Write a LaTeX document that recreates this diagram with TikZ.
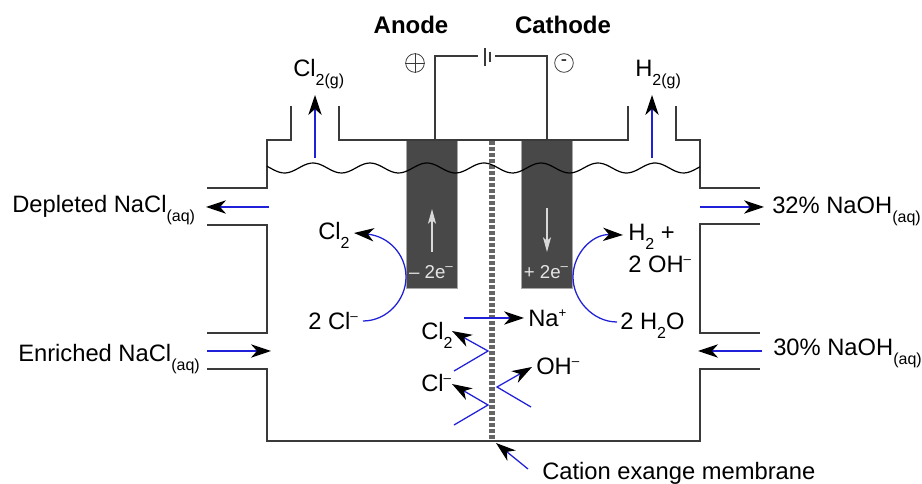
\documentclass[tikz,border=0pt]{standalone}
\usepackage{fontspec}
\setmainfont{Liberation Sans}
\usetikzlibrary{arrows.meta}
\definecolor{wallgray}{HTML}{3A3A3A}
\definecolor{flowblue}{HTML}{2020D8}
\definecolor{platedark}{HTML}{484848}
\newcommand{\chemsub}[1]{\raisebox{-0.36em}{\fontsize{12}{12}\selectfont #1}}
\newcommand{\chemsup}[1]{\raisebox{0.42em}{\fontsize{10}{12}\selectfont #1}}
\tikzset{
  species/.style={anchor=base west, inner sep=0pt, font=\fontsize{17.8}{20}\selectfont},
  heading/.style={anchor=base, inner sep=0pt, font=\fontsize{18}{20}\selectfont\bfseries},
  wall/.style={draw=wallgray, line width=0.95pt},
  flow/.style={draw=flowblue, line width=0.95pt, -{Stealth[color=black, length=15pt, width=10pt, inset=4.5pt]}},
  electron/.style={draw=white!85!black, line width=0.9pt, -{Stealth[length=11pt, width=6pt, inset=2.5pt]}},
  plate/.style={fill=platedark, draw=white!65!black, line width=0.4pt, inner sep=0pt, minimum width=38.5pt, minimum height=111pt},
  charge/.style={inner sep=0pt, text=white!90!black, font=\fontsize{14}{15}\selectfont},
  pole/.style={draw=wallgray, line width=0.6pt, circle, minimum size=14pt, inner sep=0pt}
}
\begin{document}
\begin{tikzpicture}[x=0.75pt, y=-0.75pt]
  \useasboundingbox (0,0) rectangle (922,484);

  % electrodes
  \node[plate] (anode) at (431.5,214) {};
  \node[plate] (cathode) at (547,214) {};
  \node[charge] (anodecharge) at (431,272) {-- 2e\chemsup{--}};
  \node[charge] (cathodecharge) at (546,272) {+ 2e\chemsup{--}};

  % membrane
  \coordinate (membranetop) at (492,141);
  \coordinate (membranebottom) at (492,441);
  \draw[draw=black!60, line width=4.5pt, dash pattern=on 3pt off 1.5pt] (membranetop) -- (membranebottom);

  % cell walls, left part then right part
  \draw[wall] (291,106) -- (291,140) -- (267,140) -- (267,188) -- (207,188);
  \draw[wall] (207,225) -- (267,225) -- (267,333) -- (207,333);
  \draw[wall] (207,369) -- (267,369) -- (267,441) -- (700,441) -- (700,369) -- (760,369);
  \draw[wall] (760,333) -- (700,333) -- (700,224) -- (760,224);
  \draw[wall] (760,188) -- (700,188) -- (700,140) -- (676,140) -- (676,106);
  \draw[wall] (628,106) -- (628,140) -- (339,140) -- (339,106);

  % electrolyte level
  \draw[black, line width=0.9pt, smooth, samples=140, domain=267:700]
    plot ({\x},{168-5*cos(6.316*(\x-313))});

  % circuit and battery
  \coordinate (anodewire) at (435,140);
  \coordinate (cathodewire) at (547,140);
  \coordinate (plateleft) at (478,56);
  \coordinate (plateright) at (495,56);
  \draw[wall] (anodewire) |- (plateleft);
  \draw[wall] (cathodewire) |- (plateright);
  \draw[wall] (485,48) -- (485,66);
  \draw[wall] (490,52) -- (490,62);

  % poles
  \node[pole] (plus) at (415,63) {};
  \draw[wall, line width=0.6pt] (plus.west) -- (plus.east) (plus.north) -- (plus.south);
  \node[pole, font=\fontsize{14}{14}\selectfont] (minus) at (564,63) {-};

  % headings and gases
  \node[heading] (anodelabel) at (411,34) {Anode};
  \node[heading] (cathodelabel) at (563,34) {Cathode};
  \node[species] (chlorinegas) at (293,77) {Cl\chemsub{2(g)}};
  \node[species] (hydrogengas) at (635,77) {H\chemsub{2(g)}};

  % side streams
  \node[species] (depleted) at (12,213) {Depleted NaCl\chemsub{(aq)}};
  \node[species] (enriched) at (18,362) {Enriched NaCl\chemsub{(aq)}};
  \node[species] (strong) at (772,214) {32\% NaOH\chemsub{(aq)}};
  \node[species] (weak) at (773,356) {30\% NaOH\chemsub{(aq)}};

  % species
  \node[species] (chlorine) at (318,240) {Cl\chemsub{2}};
  \node[species] (chloride) at (308,330) {2 Cl\chemsup{--}};
  \node[species] (hydrogen) at (628,241) {H\chemsub{2} +};
  \node[species] (hydroxide) at (628,273) {2 OH\chemsup{--}};
  \node[species] (water) at (620,330) {2 H\chemsub{2}O};
  \node[species] (sodium) at (528,327) {Na\chemsup{+}};
  \node[species] (chlorinelow) at (421,340) {Cl\chemsub{2}};
  \node[species] (chloridelow) at (421,392) {Cl\chemsup{--}};
  \node[species] (hydroxidelow) at (536,375) {OH\chemsup{--}};
  \node[species] (membranelabel) at (542,480) {Cation exange membrane};

  % gas and stream arrows
  \coordinate (chlorinestart) at (315,158);
  \coordinate (chlorineend) at (315,95);
  \coordinate (hydrogenstart) at (652,158);
  \coordinate (hydrogenend) at (652,95);
  \draw[flow] (chlorinestart) -- (chlorineend);
  \draw[flow] (hydrogenstart) -- (hydrogenend);
  \coordinate (depletedstart) at (269,207);
  \coordinate (depletedend) at (206,207);
  \coordinate (enrichedstart) at (207,351);
  \coordinate (enrichedend) at (271,351);
  \coordinate (strongstart) at (700,207);
  \coordinate (strongend) at (764,207);
  \coordinate (weakstart) at (762,351);
  \coordinate (weakend) at (698,351);
  \draw[flow] (depletedstart) -- (depletedend);
  \draw[flow] (enrichedstart) -- (enrichedend);
  \draw[flow] (strongstart) -- (strongend);
  \draw[flow] (weakstart) -- (weakend);

  % electrons
  \coordinate (anodeelectronstart) at (432,252);
  \coordinate (anodeelectronend) at (432,209);
  \coordinate (cathodeelectronstart) at (547,208);
  \coordinate (cathodeelectronend) at (547,252);
  \draw[electron] (anodeelectronstart) -- (anodeelectronend);
  \draw[electron] (cathodeelectronstart) -- (cathodeelectronend);

  % electrode reactions
  \coordinate (anodein) at (363,321);
  \coordinate (anodetouch) at (406,277);
  \coordinate (anodeout) at (354,233);
  \coordinate (cathodein) at (617,322);
  \coordinate (cathodetouch) at (573,277);
  \coordinate (cathodeout) at (623,235);
  \draw[flow] (anodein) .. controls (387,321) and (406,300) .. (anodetouch)
    .. controls (406,254) and (388,236) .. (anodeout);
  \draw[flow] (cathodein) .. controls (593,322) and (573,300) .. (cathodetouch)
    .. controls (573,254) and (592,234) .. (cathodeout);

  % transport across the membrane
  \coordinate (sodiumstart) at (464,318);
  \coordinate (sodiumend) at (524,318);
  \draw[flow] (sodiumstart) -- (sodiumend);
  \coordinate (upperin) at (454,371);
  \coordinate (upperturn) at (488,351);
  \coordinate (upperout) at (452,331);
  \coordinate (lowerin) at (454,425);
  \coordinate (lowerturn) at (488,405);
  \coordinate (lowerout) at (452,384);
  \coordinate (rightin) at (531,407);
  \coordinate (rightturn) at (497,387);
  \coordinate (rightout) at (532,367);
  \draw[flow] (upperin) -- (upperturn) -- (upperout);
  \draw[flow] (lowerin) -- (lowerturn) -- (lowerout);
  \draw[flow] (rightin) -- (rightturn) -- (rightout);

  % membrane pointer
  \coordinate (pointerstart) at (528,469);
  \coordinate (pointerend) at (496,443);
  \draw[flow] (pointerstart) -- (pointerend);
\end{tikzpicture}
\end{document}
